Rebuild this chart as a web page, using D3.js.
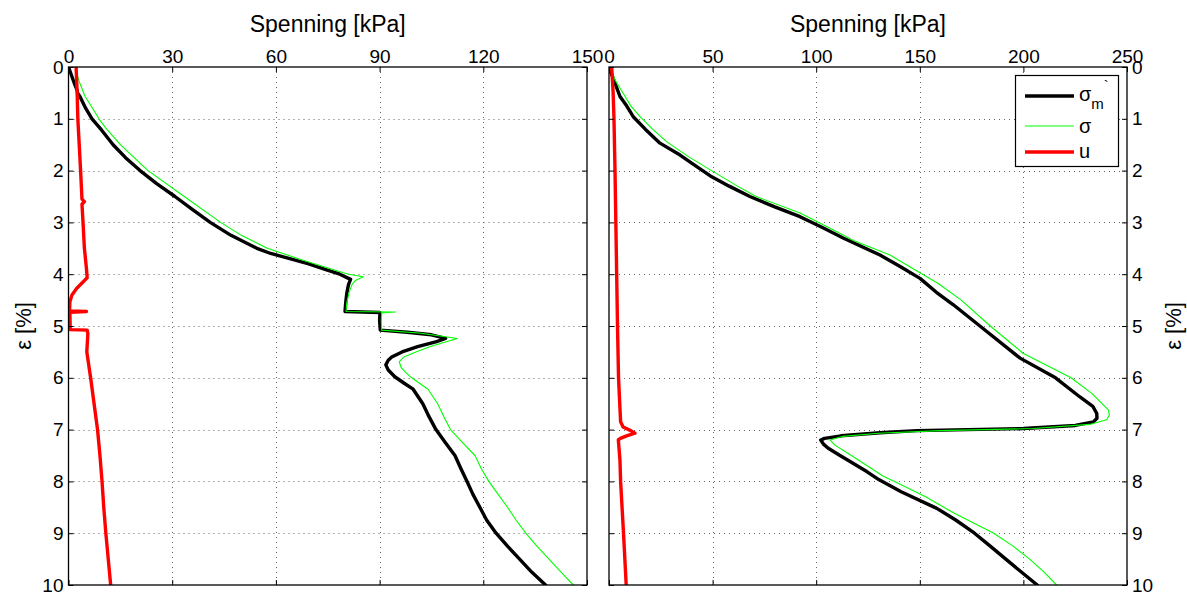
<!DOCTYPE html>
<html>
<head>
<meta charset="utf-8">
<script src="https://cdn.jsdelivr.net/npm/d3@7"></script>
<style>
  html, body { margin: 0; padding: 0; background: #fff; }
  svg { display: block; font-family: "Liberation Sans", Arial, Helvetica, sans-serif; }
</style>
</head>
<body>
<svg id="chart" width="1187" height="593"></svg>
<script>
// ---------------- DATA ----------------
const epsTicks = [0, 1, 2, 3, 4, 5, 6, 7, 8, 9, 10];
const leftTicks = [0, 30, 60, 90, 120, 150];
const rightTicks = [0, 50, 100, 150, 200, 250];
const xTitle = "Spenning [kPa]";
const yTitle = "ε [%]";

// Left panel — effective stress σ'm (black)
const leftBlackEps = [0,0.15,0.3,0.45,0.5,0.57,0.8,1.0,1.22,1.5,1.75,2.0,2.25,2.5,2.75,3.0,3.25,3.5,3.6,3.7,3.8,3.9,4.0,4.1,4.2,4.37,4.55,4.72,4.74,4.9,5.08,5.12,5.17,5.24,5.3,5.4,5.5,5.6,5.66,5.75,5.85,5.98,6.1,6.22,6.5,6.75,7.0,7.25,7.5,7.75,8.0,8.25,8.5,8.75,9.0,9.25,9.5,9.75,10];
const leftBlackVal = [0,0.8,1.6,2.5,2.6,3.3,5.0,6.8,9.6,12.9,16.5,20.7,25.5,30.8,35.8,41,47,54.5,58.5,64,69.5,74,78.5,81.6,81.0,80.5,80.2,80.0,90.1,90.0,90.2,98,105,109.1,106.5,101,96.5,93.5,92.5,91.8,92.5,94.4,97,99.7,102.5,104.3,106.3,109,111.8,113.5,115.3,117,119,121,123.7,127,130.5,134,138];

// Left panel — total stress σ (green)
const leftGreenEps = [0,0.15,0.3,0.57,0.8,1.0,1.18,1.5,2.0,2.5,3.0,3.25,3.5,3.7,3.9,4.0,4.05,4.12,4.2,4.35,4.55,4.72,4.73,4.75,4.9,5.08,5.14,5.24,5.3,5.4,5.5,5.6,5.69,5.8,5.9,6.0,6.22,6.5,6.75,7.0,7.25,7.5,7.75,8.0,8.25,8.5,8.75,9.0,9.25,9.5,9.75,10];
const leftGreenVal = [2.0,2.5,3.2,4.8,7.0,8.8,10.8,15,23,33.5,44,50,57.5,66.5,76,81,85.3,83,82,81.2,80.5,80.3,94.6,90.6,90.5,90.6,102,112.5,109.5,104.5,100.5,97,95.7,96.2,97.6,99.3,104,106.8,108.6,110.5,114,117.6,119.4,121.6,124.3,127,129.5,132.3,135.5,139,142.5,146];

// Left panel — pore pressure u (red)
const leftRedEps = [0,0.5,1.0,1.5,2.0,2.55,2.6,2.65,3.0,3.5,3.9,4.07,4.15,4.27,4.4,4.53,4.71,4.72,4.735,5.07,5.08,5.15,5.5,6.0,6.5,7.0,7.5,8.0,8.5,9.0,9.5,10];
const leftRedVal = [2.2,2.5,2.7,3.1,3.5,3.9,4.6,3.9,4.2,4.6,5.2,5.4,4.2,2.4,1.0,0.4,0.3,5.2,0.4,0.5,5.4,5.6,5.3,6.4,7.4,8.4,9.1,9.7,10.2,10.8,11.5,12.2];

// Right panel — σ'm (black)
const rightBlackEps = [0,0.06,0.3,0.57,0.75,0.96,1.2,1.47,1.7,1.83,2.12,2.3,2.5,2.7,2.89,3.1,3.3,3.63,3.85,4.08,4.35,4.59,5.0,5.62,6.0,6.37,6.55,6.69,6.78,6.85,6.92,6.98,7.02,7.06,7.12,7.17,7.2,7.28,7.36,7.5,7.81,7.97,8.2,8.52,8.75,9.0,9.25,9.5,9.75,10];
const rightBlackVal = [0,0.5,2.8,5.3,8.5,11.7,17.5,24.6,34.3,39,49.6,58,68,80,92.2,103,113,130.8,140.5,150.1,158,166.2,179,198.4,215.5,227.3,233.5,235.4,235.5,233.8,225,200,148.5,130.8,112,104,102.2,103.5,105.8,111.5,124.4,130.4,141,158.2,167.5,176.4,184,191.5,199,206.7];

// Right panel — σ (green)
const rightGreenEps = [0,0.1,0.25,0.51,0.75,0.96,1.2,1.44,1.73,2.02,2.3,2.5,2.82,3.1,3.35,3.63,3.9,4.18,4.5,5.0,5.53,6.0,6.3,6.62,6.72,6.81,6.9,6.98,7.02,7.07,7.13,7.2,7.3,7.5,7.9,8.0,8.3,8.6,9.0,9.25,9.5,9.75,10];
const rightGreenVal = [0.5,1.5,2.9,6.9,10.5,15,21,27.8,38.3,50.3,62,71,92.2,106,118,135.6,147,158.9,170,184,200,223,233,241,241.5,240.2,232,204.8,160,130,113,106.7,109,117,132.4,137.8,153,166,185.7,195,203,210,216];

// Right panel — u (red)
const rightRedEps = [0,0.5,1,2,3,4,5,6,6.85,6.95,7.02,7.07,7.12,7.17,7.2,7.6,8,9,10];
const rightRedVal = [1.3,2.0,2.4,2.9,3.3,3.7,4.1,4.6,5.6,6.8,10.5,12.5,8.5,5.5,4.5,5.3,5.6,7.0,8.3];

const legendLabels = ["σ", "σ", "u"];

// ---------------- LAYOUT ----------------
const svg = d3.select("#chart");
svg.append("rect").attr("width", 1187).attr("height", 593).attr("fill", "#fff");

const yTop = 67, yBottom = 585;
const y = d3.scaleLinear().domain([0, 10]).range([yTop, yBottom]);

const panels = [
  { x0: 68.5, x1: 587, domain: [0, 150], ticks: leftTicks, side: "left",
    series: [
      { eps: leftBlackEps, val: leftBlackVal, color: "#000", width: 3.4 },
      { eps: leftGreenEps, val: leftGreenVal, color: "#00ff00", width: 1.1 },
      { eps: leftRedEps, val: leftRedVal, color: "#ff0000", width: 3.4 }
    ] },
  { x0: 609, x1: 1127, domain: [0, 250], ticks: rightTicks, side: "right",
    series: [
      { eps: rightBlackEps, val: rightBlackVal, color: "#000", width: 3.4 },
      { eps: rightGreenEps, val: rightGreenVal, color: "#00ff00", width: 1.1 },
      { eps: rightRedEps, val: rightRedVal, color: "#ff0000", width: 3.4 }
    ] }
];

panels.forEach((p, pi) => {
  const x = d3.scaleLinear().domain(p.domain).range([p.x0, p.x1]);
  const g = svg.append("g");

  // grid
  const grid = g.append("g").attr("stroke", "#333").attr("stroke-width", 1)
    .attr("stroke-dasharray", "1,4").attr("fill", "none").attr("opacity", 0.75);
  p.ticks.slice(1, -1).forEach(t => {
    grid.append("line").attr("x1", Math.round(x(t)) + 0.5).attr("x2", Math.round(x(t)) + 0.5)
      .attr("y1", yTop).attr("y2", yBottom);
  });
  epsTicks.slice(1, -1).forEach(t => {
    grid.append("line").attr("y1", Math.round(y(t)) + 0.5).attr("y2", Math.round(y(t)) + 0.5)
      .attr("x1", p.x0).attr("x2", p.x1);
  });

  // clip
  const clipId = "clip" + pi;
  svg.append("clipPath").attr("id", clipId).append("rect")
    .attr("x", p.x0).attr("y", yTop).attr("width", p.x1 - p.x0).attr("height", yBottom - yTop);

  const line = d3.line().x(d => x(d[1])).y(d => y(d[0]));
  const curves = g.append("g").attr("clip-path", `url(#${clipId})`);
  p.series.forEach(s => {
    const pts = s.eps.map((e, i) => [e, s.val[i]]);
    curves.append("path").datum(pts).attr("d", line)
      .attr("fill", "none").attr("stroke", s.color).attr("stroke-width", s.width)
      .attr("stroke-linejoin", "round").attr("stroke-linecap", "round");
  });

  // axes
  const fontSize = 19;
  const axTop = g.append("g").attr("transform", `translate(0,${yTop})`)
    .call(d3.axisTop(x).tickValues(p.ticks).tickFormat(d3.format("d")).tickSizeInner(-5).tickSizeOuter(0).tickPadding(4));
  const axBottom = g.append("g").attr("transform", `translate(0,${yBottom})`)
    .call(d3.axisBottom(x).tickValues(p.ticks).tickFormat("").tickSizeInner(-5).tickSizeOuter(0));
  let axLab, axNo;
  if (p.side === "left") {
    axLab = g.append("g").attr("transform", `translate(${p.x0},0)`)
      .call(d3.axisLeft(y).tickValues(epsTicks).tickFormat(d3.format("d")).tickSizeInner(-5).tickSizeOuter(0).tickPadding(5));
    axNo = g.append("g").attr("transform", `translate(${p.x1},0)`)
      .call(d3.axisRight(y).tickValues(epsTicks).tickFormat("").tickSizeInner(-5).tickSizeOuter(0));
  } else {
    axLab = g.append("g").attr("transform", `translate(${p.x1},0)`)
      .call(d3.axisRight(y).tickValues(epsTicks).tickFormat(d3.format("d")).tickSizeInner(-5).tickSizeOuter(0).tickPadding(5));
    axNo = g.append("g").attr("transform", `translate(${p.x0},0)`)
      .call(d3.axisLeft(y).tickValues(epsTicks).tickFormat("").tickSizeInner(-5).tickSizeOuter(0));
  }
  [axTop, axBottom, axLab, axNo].forEach(a => {
    a.select(".domain").remove();
    a.selectAll(".tick line").attr("stroke", "#000").attr("stroke-width", 1);
    a.selectAll(".tick text").attr("fill", "#000").style("font-size", fontSize + "px")
      .style("font-family", '"Liberation Sans", Arial, Helvetica, sans-serif');
  });

  // box
  g.append("rect").attr("x", p.x0).attr("y", yTop).attr("width", p.x1 - p.x0).attr("height", yBottom - yTop)
    .attr("fill", "none").attr("stroke", "#000").attr("stroke-width", 1.3);

  // titles
  g.append("text").attr("x", (p.x0 + p.x1) / 2).attr("y", 32).attr("text-anchor", "middle")
    .style("font-size", "23px").attr("fill", "#000").text(xTitle);
  const yx = p.side === "left" ? 31 : 1181;
  g.append("text").attr("transform", `translate(${yx},${(yTop + yBottom) / 2}) rotate(-90)`)
    .attr("text-anchor", "middle").style("font-size", "22px").attr("fill", "#000").text(yTitle);
});

// ---------------- LEGEND ----------------
const lg = svg.append("g");
lg.append("rect").attr("x", 1015.5).attr("y", 75.5).attr("width", 103).attr("height", 91)
  .attr("fill", "#fff").attr("stroke", "#000").attr("stroke-width", 1.2);
const legendItems = [
  { color: "#000", width: 3.4, yLine: 96, yText: 101 },
  { color: "#00ff00", width: 1.1, yLine: 126, yText: 133 },
  { color: "#ff0000", width: 3.4, yLine: 152, yText: 158 }
];
legendItems.forEach((it, i) => {
  lg.append("line").attr("x1", 1025).attr("x2", 1074).attr("y1", it.yLine).attr("y2", it.yLine)
    .attr("stroke", it.color).attr("stroke-width", it.width);
  const t = lg.append("text").attr("x", 1079).attr("y", it.yText).style("font-size", "20px").attr("fill", "#000");
  t.append("tspan").text(legendLabels[i]);
  if (i === 0) {
    t.append("tspan").attr("dy", 8).style("font-size", "15px").text("m");
    t.append("tspan").attr("dy", -18).style("font-size", "15px").text("`");
  }
});
</script>
</body>
</html>
